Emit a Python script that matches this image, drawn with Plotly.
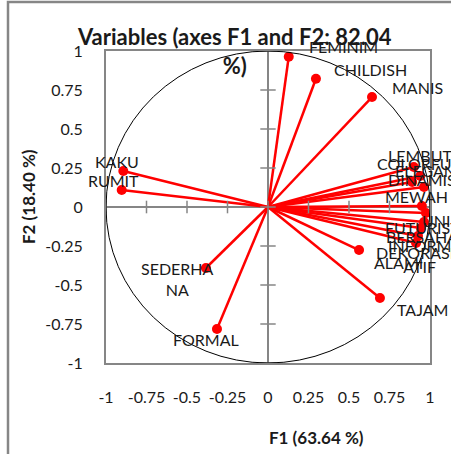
import plotly.graph_objects as go

# ---- data ----
variables = ["FEMINIM", "CHILDISH", "MANIS", "KAKU", "RUMIT", "SEDERHANA", "FORMAL",
             "TAJAM", "ALAMI", "LEMBUT", "COLORFUL", "ELEGAN", "DINAMIS", "MEWAH",
             "UNIK", "FUTURISTIK", "BERSAHABAT", "INFORMATIF", "DEKORASI"]
f1 = [0.128, 0.296, 0.642, -0.893, -0.903, -0.383, -0.315,
      0.691, 0.562, 0.900, 0.890, 0.940, 0.963, 0.950,
      0.975, 0.963, 0.944, 0.926, 0.914]
f2 = [0.963, 0.822, 0.705, 0.231, 0.109, -0.391, -0.782,
      -0.583, -0.276, 0.256, 0.160, 0.199, 0.128, 0.006,
      -0.038, -0.096, -0.135, -0.186, -0.231]
tick_values = [-1, -0.75, -0.5, -0.25, 0, 0.25, 0.5, 0.75, 1]
tick_labels = ["-1", "-0.75", "-0.5", "-0.25", "0", "0.25", "0.5", "0.75", "1"]
title_text = "Variables (axes F1 and F2: 82.04<br>%)"
x_title = "F1 (63.64 %)"
y_title = "F2 (18.40 %)"

# ---- style ----
RED = "#FF0000"
GRAY = "#868686"
TXT = "#1a1a1a"
FONT = "Lato"
W, H = 451, 454
ML, MR, MT, MB = 106, 21, 51, 91
PW, PH = W - ML - MR, H - MT - MB

wrap = {"SEDERHANA": "SEDERHA<br>NA", "INFORMATIF": "INFORM<br>ATIF"}
# label offsets in pixels (dx right, dy down)
offsets = {"FEMINIM": (55, -10), "CHILDISH": (55, -9), "MANIS": (45, -10),
           "KAKU": (-6, -9), "RUMIT": (-8, -10), "SEDERHANA": (-28, 11),
           "FORMAL": (-11, 11), "TAJAM": (43, 12), "ALAMI": (39, 12),
           "LEMBUT": (6, -12), "COLORFUL": (6, -19), "ELEGAN": (5, -5),
           "DINAMIS": (-2, -8), "MEWAH": (-5, -10), "UNIK": (16, 8),
           "FUTURISTIK": (6, 6), "BERSAHABAT": (16, 8), "INFORMATIF": (1, 20),
           "DEKORASI": (-1, 9)}

def px_to_paper_x(px):
    return (px - ML) / PW

def px_to_paper_y(py):
    return (H - MB - py) / PH

fig = go.Figure()

# vectors from origin
lx, ly = [], []
for a, b in zip(f1, f2):
    lx += [0, a, None]
    ly += [0, b, None]
fig.add_trace(go.Scatter(x=lx, y=ly, mode="lines",
                         line=dict(color=RED, width=2.5), hoverinfo="skip",
                         showlegend=False))
fig.add_trace(go.Scatter(x=f1, y=f2, mode="markers",
                         marker=dict(color=RED, size=10), text=variables,
                         showlegend=False))

# tick marks on the zero axes
fig.add_trace(go.Scatter(x=tick_values, y=[0] * len(tick_values), mode="markers",
                         marker=dict(symbol="line-ns", size=9,
                                     line=dict(color=GRAY, width=1.5)),
                         hoverinfo="skip", showlegend=False))
fig.add_trace(go.Scatter(x=[0] * len(tick_values), y=tick_values, mode="markers",
                         marker=dict(symbol="line-ew", size=11,
                                     line=dict(color=GRAY, width=1.5)),
                         hoverinfo="skip", showlegend=False))

# correlation circle
fig.add_shape(type="circle", xref="x", yref="y", x0=-1, y0=-1, x1=1, y1=1,
              line=dict(color="black", width=1), layer="above")

# variable labels
for name, a, b in zip(variables, f1, f2):
    dx, dy = offsets[name]
    fig.add_annotation(x=a, y=b, text=wrap.get(name, name), showarrow=False,
                       xshift=dx, yshift=-dy, xanchor="center", yanchor="middle",
                       font=dict(family=FONT, size=16, color=TXT))

# title and axis titles
fig.add_annotation(xref="paper", yref="paper", x=px_to_paper_x(234), y=px_to_paper_y(51),
                   text="<b>" + title_text + "</b>", showarrow=False,
                   xanchor="center", yanchor="middle",
                   font=dict(family=FONT, size=22, color=TXT))
fig.add_annotation(xref="paper", yref="paper", x=px_to_paper_x(316), y=px_to_paper_y(437),
                   text="<b>" + x_title + "</b>", showarrow=False,
                   xanchor="center", yanchor="middle",
                   font=dict(family=FONT, size=17, color=TXT))
fig.add_annotation(xref="paper", yref="paper", x=px_to_paper_x(28), y=px_to_paper_y(197),
                   text="<b>" + y_title + "</b>", showarrow=False, textangle=-90,
                   xanchor="center", yanchor="middle",
                   font=dict(family=FONT, size=17, color=TXT))

# outer chart border (extends beyond the right/bottom edges)
fig.add_shape(type="rect", xref="paper", yref="paper",
              x0=px_to_paper_x(8), x1=px_to_paper_x(W + 5),
              y0=px_to_paper_y(H + 5), y1=px_to_paper_y(2),
              line=dict(color=GRAY, width=2.5))

axis_common = dict(range=[-1, 1], tickvals=tick_values, ticktext=tick_labels,
                   showgrid=False, zeroline=True, zerolinecolor=GRAY, zerolinewidth=2,
                   showline=True, linecolor=GRAY, linewidth=2, mirror=True,
                   ticks="", tickfont=dict(family=FONT, size=16, color=TXT))
fig.update_xaxes(**axis_common, ticklabelstandoff=19)
fig.update_yaxes(**axis_common, ticklabelstandoff=18)

fig.update_layout(width=W, height=H, margin=dict(l=ML, r=MR, t=MT, b=MB),
                  paper_bgcolor="white", plot_bgcolor="white", showlegend=False,
                  font=dict(family=FONT))

fig.write_html("out.html")
